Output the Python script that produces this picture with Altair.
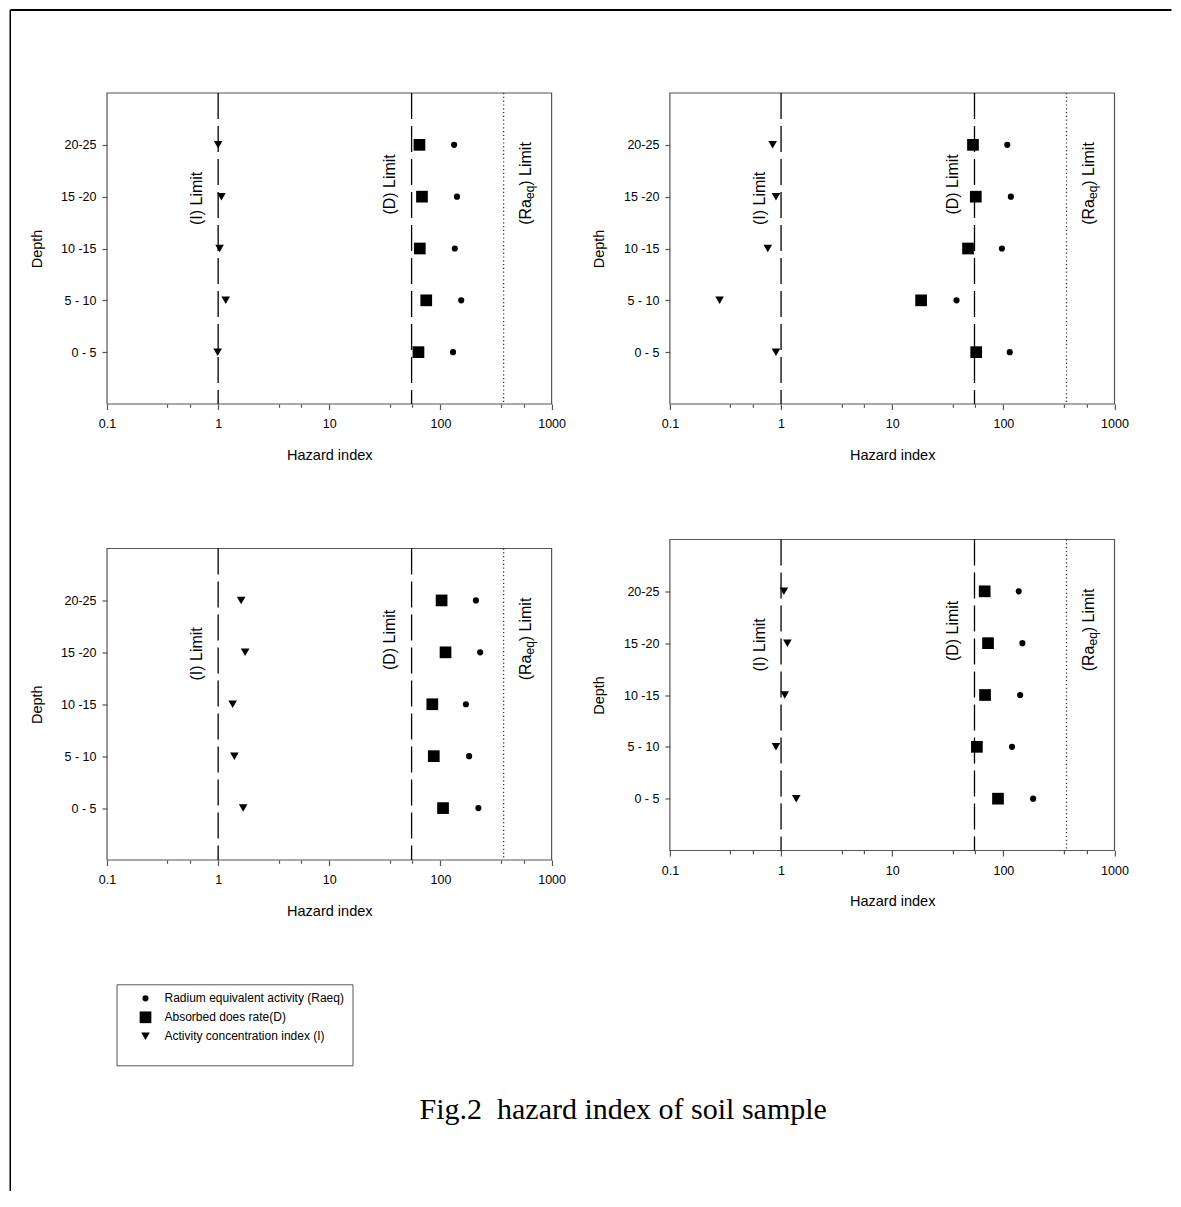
import altair as alt
import pandas as pd

# ---------------- data ----------------
depth_top_to_bottom = ["20-25", "15 -20", "10 -15", "5 - 10", "0 - 5"]
depth_order = ["0 - 5", "5 - 10", "10 -15", "15 -20", "20-25"]
series_names = [
    "Radium equivalent activity (Raeq)",
    "Absorbed does rate(D)",
    "Activity concentration index (I)",
]

# values in depth_order
p1_raeq = [129.8, 153.8, 134.6, 140.8, 132.7]
p1_dose = [63.4, 74.5, 65.2, 68.2, 64.7]
p1_aci = [0.99, 1.17, 1.03, 1.07, 1.00]

p2_raeq = [114.2, 37.9, 97.1, 116.9, 108.4]
p2_dose = [57.0, 18.2, 48.1, 56.5, 53.3]
p2_aci = [0.90, 0.28, 0.76, 0.90, 0.84]

p3_raeq = [219.4, 181.1, 169.4, 227.7, 208.4]
p3_dose = [105.5, 87.1, 84.5, 111.1, 102.4]
p3_aci = [1.68, 1.40, 1.35, 1.75, 1.61]

p4_raeq = [185.3, 119.7, 141.6, 148.4, 137.4]
p4_dose = [89.5, 57.8, 68.4, 72.8, 67.9]
p4_aci = [1.37, 0.90, 1.08, 1.14, 1.06]

limit_I = 1
limit_D = 55
limit_Raeq = 370

x_major = [0.1, 1, 10, 100, 1000]
x_minor = [0.35, 0.56, 3.5, 5.6, 35, 56, 350, 560]

caption_text = "Fig.2\u00a0 hazard index of soil sample"

# ---------------- styling ----------------
FONT = "Liberation Sans"
SERIF = "Liberation Serif"
W = 444.6
GRAY = "#555555"


def one(v=0):
    return pd.DataFrame({"v": [v]})


def panel(raeq, dose, aci, H, y0, legend=None, extra=()):
    df = pd.DataFrame({
        "depth": depth_order * 3,
        "series": [series_names[0]] * 5 + [series_names[1]] * 5 + [series_names[2]] * 5,
        "value": raeq + dose + aci,
    })
    xsc = alt.Scale(type="log", domain=[0.1, 1000], nice=False)
    ysc = alt.Scale(type="point", domain=depth_top_to_bottom, range=[y0, H], padding=1)

    xaxis = alt.Axis(
        values=x_major, format="~g", orient="bottom",
        domain=False, grid=False, ticks=True, tickSize=5.5, tickColor=GRAY, tickWidth=1.2,
        labelFlush=False, labelOverlap=False, labelFont=FONT, labelFontSize=12.5,
        labelColor="black", labelPadding=8,
        title="Hazard index", titleFont=FONT, titleFontSize=14.5, titleFontWeight="normal",
        titleColor="black", titleY=51, titleBaseline="middle",
    )
    minor_axis = alt.Axis(
        values=x_minor, orient="bottom", domain=False, grid=False, labels=False,
        ticks=True, tickSize=3.3, tickColor=GRAY, tickWidth=1.2, title=None,
    )
    yaxis = alt.Axis(
        domain=False, grid=False, ticks=True, tickSize=5, tickColor=GRAY, tickWidth=1.2,
        labelFont=FONT, labelFontSize=12.5, labelColor="black", labelPadding=6,
        title="Depth", titleFont=FONT, titleFontSize=14.5, titleFontWeight="normal",
        titleColor="black", titleX=-70, titleY=y0 + (H - y0) / 2, titleBaseline="middle",
    )

    frame = alt.Chart(one()).mark_rect(fill="transparent", stroke=GRAY, strokeWidth=1.2).encode(
        x=alt.value(0), x2=alt.value(W), y=alt.value(y0), y2=alt.value(H)
    )

    def rule(v, dash, color, axis=None):
        return alt.Chart(one(v)).mark_rule(strokeDash=dash, color=color, strokeWidth=1.3).encode(
            x=alt.X("v:Q", scale=xsc, axis=axis), y=alt.value(y0), y2=alt.value(H)
        )

    def label(v, text, yc, dy, size=16, align="center", dx=0):
        return alt.Chart(one(v)).mark_text(
            text=text, angle=270, align=align, baseline="middle", dx=dx, dy=dy,
            fontSize=size, font=FONT, color="black"
        ).encode(x=alt.X("v:Q", scale=xsc, axis=None), y=alt.value(yc))

    r_start = y0 + 131.8
    layers = [
        frame,
        rule(limit_I, [26, 7], "black", axis=minor_axis),
        rule(limit_D, [26, 7], "black"),
        rule(limit_Raeq, [1.2, 2.6], "#333333"),
        label(limit_I, "(I) Limit", y0 + 105.4, -21.5),
        label(limit_D, "(D) Limit", y0 + 91.4, -21.5),
        label(limit_Raeq, "(Ra", r_start, 22, align="left", dx=0),
        label(limit_Raeq, "eq", r_start, 26.5, size=12, align="left", dx=25.8),
        label(limit_Raeq, ") Limit", r_start, 22, align="left", dx=39.1),
    ]

    pts = alt.Chart(df).mark_point(filled=True, color="black", opacity=1, strokeWidth=0).encode(
        x=alt.X("value:Q", scale=xsc, axis=xaxis),
        y=alt.Y("depth:N", scale=ysc, axis=yaxis),
        shape=alt.Shape("series:N", scale=alt.Scale(domain=series_names,
                        range=["circle", "square", "triangle-down"]), legend=legend),
        size=alt.Size("series:N", scale=alt.Scale(type="ordinal", domain=series_names,
                      range=[38, 137, 74]), legend=legend),
    )
    layers.append(pts)
    layers.extend(extra)
    return alt.layer(*layers).resolve_axis(x="independent").properties(width=W, height=H)


# figure frame (top and left lines), drawn with panel 1
frame_top = alt.Chart(one()).mark_rule(color="black", strokeWidth=2).encode(
    x=alt.value(-96.75), x2=alt.value(1064.5), y=alt.value(-83)
)
frame_left = alt.Chart(one()).mark_rule(color="black", strokeWidth=1.5).encode(
    x=alt.value(-96.75), y=alt.value(-83), y2=alt.value(1098)
)

legend = alt.Legend(
    orient="none", legendX=9.5, legendY=444.8, direction="vertical",
    title=" ", titleOrient="bottom", titleFontSize=10, titlePadding=5,
    strokeColor=GRAY, fillColor="white", padding=8,
    symbolOffset=15, labelOffset=13, rowPadding=7,
    labelFont=FONT, labelFontSize=12, labelColor="black", labelLimit=400,
    symbolFillColor="black", symbolStrokeColor="black", symbolStrokeWidth=0,
)

caption = alt.Chart(one()).mark_text(
    text=caption_text, font=SERIF, fontSize=30, align="left", baseline="alphabetic", color="black"
).encode(x=alt.value(312.5), y=alt.value(579.5))

H1 = 311
H3 = 320.5
p1 = panel(p1_raeq, p1_dose, p1_aci, H1, 0, extra=(frame_top, frame_left))
p2 = panel(p2_raeq, p2_dose, p2_aci, H1, 0)
p3 = panel(p3_raeq, p3_dose, p3_aci, H3, 9, legend=legend, extra=(caption,))
p4 = panel(p4_raeq, p4_dose, p4_aci, H1, 0)

chart = alt.concat(
    p1, p2, p3, p4, columns=2,
    spacing={"row": 135.5, "column": 117.9}, bounds="flush", align="each",
).resolve_scale(shape="independent", size="independent").properties(
    padding=0
).configure_view(stroke="transparent")

chart.save("out.html", embed_options={"renderer": "svg", "actions": False})
